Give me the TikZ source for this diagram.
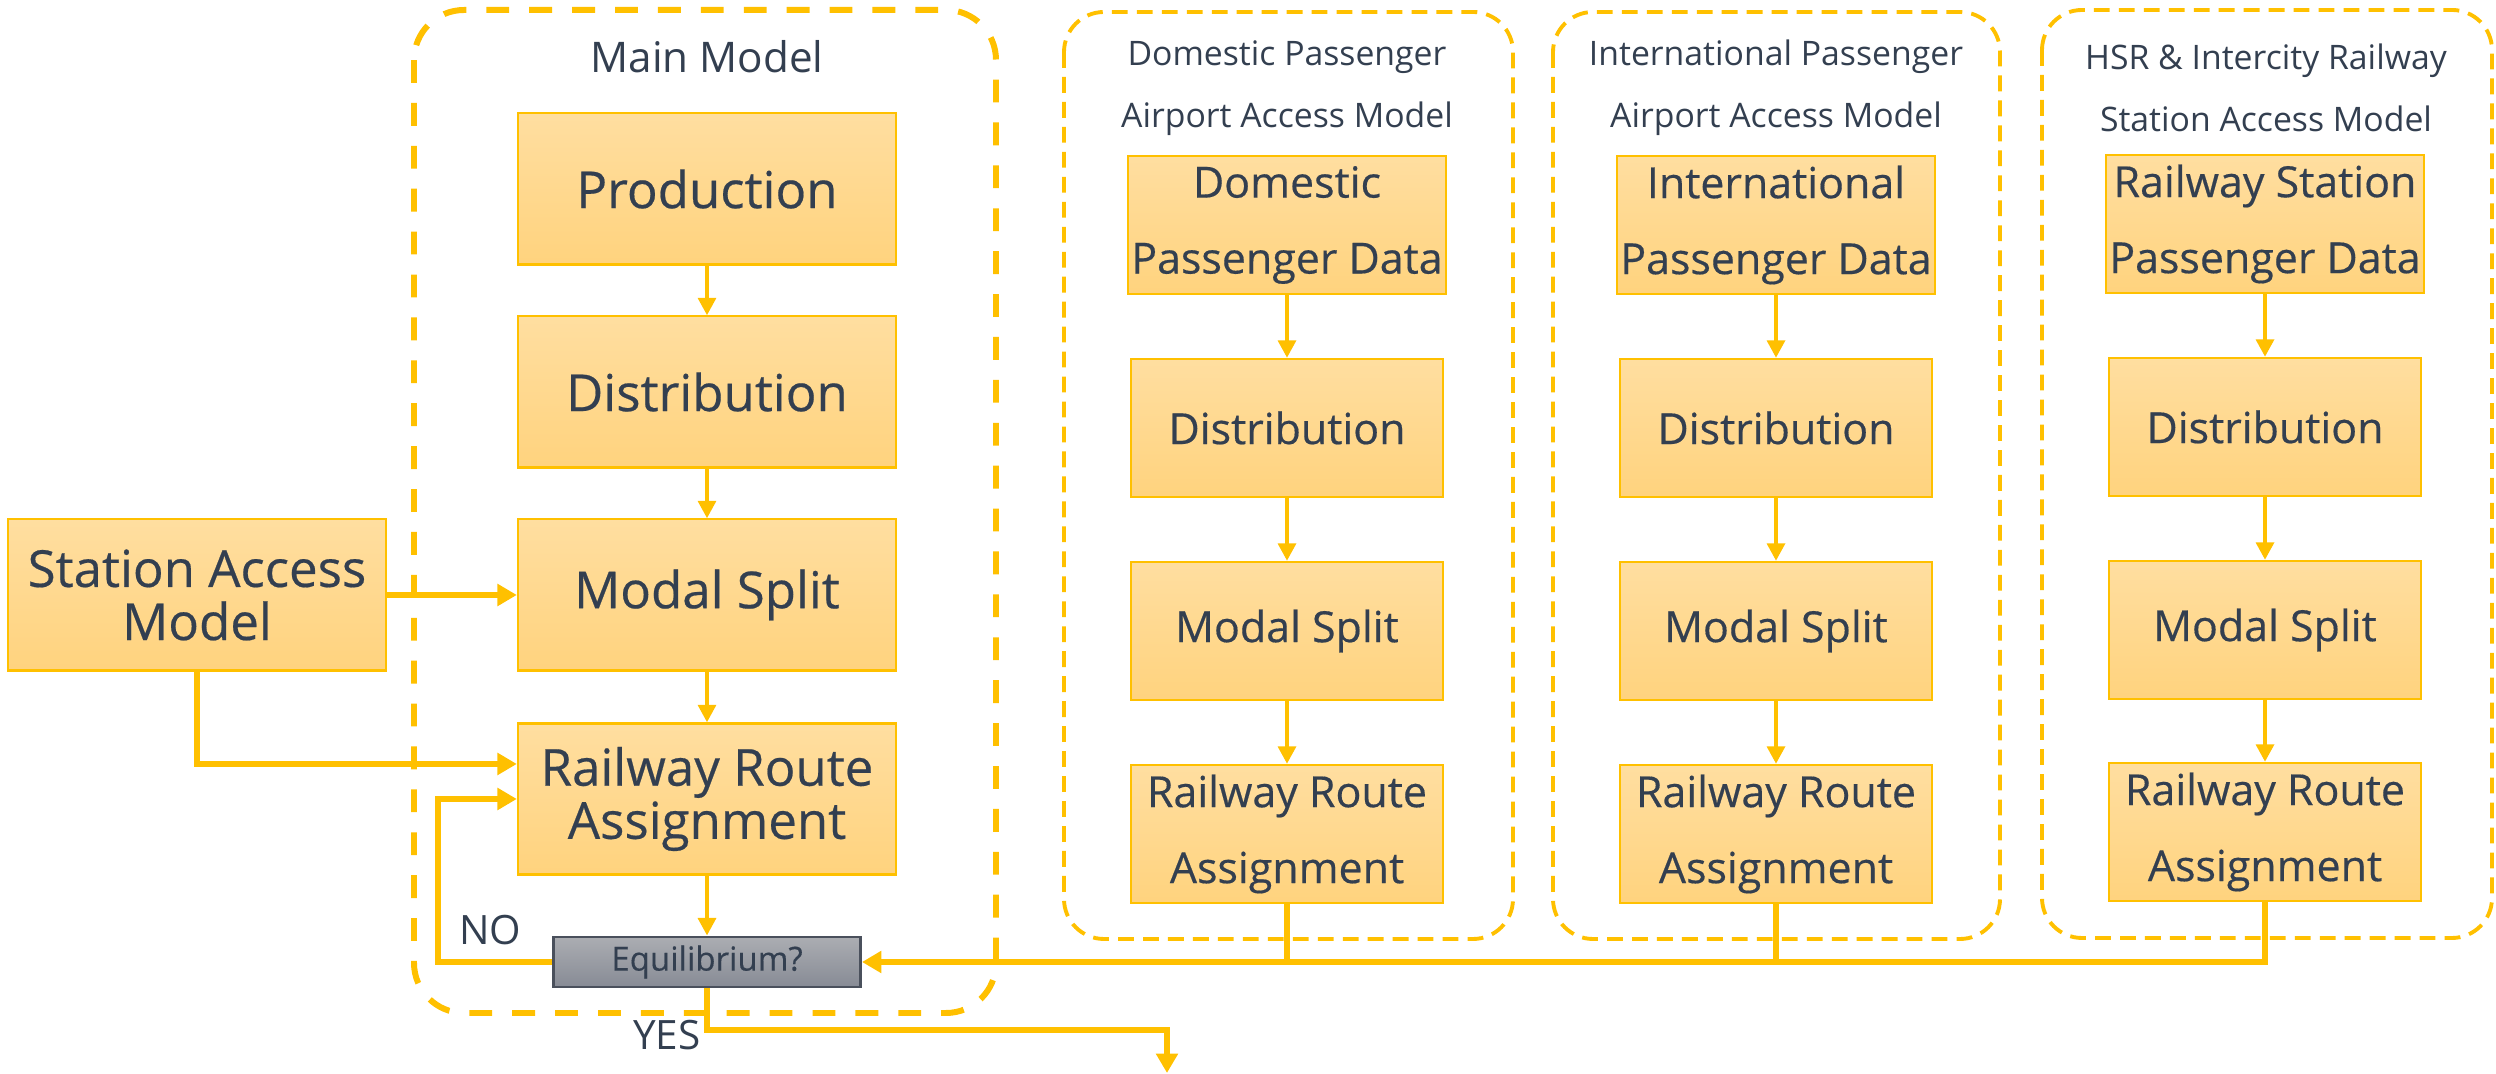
\documentclass[tikz,border=0pt]{standalone}
\usepackage{fontspec}
\setmainfont{Open Sans}
\newfontfamily\boxfont[FakeBold=0.4]{Open Sans}
\usetikzlibrary{arrows.meta,calc,positioning}
\definecolor{gold}{HTML}{FFC000}
\definecolor{boxtop}{HTML}{FFDEA0}
\definecolor{boxbot}{HTML}{FFD37E}
\definecolor{ink}{HTML}{333F50}
\definecolor{greytop}{HTML}{ABADB2}
\definecolor{greybot}{HTML}{878B95}
\definecolor{greyline}{HTML}{4A505C}
\tikzset{
	stage/.style={draw=gold,line width=0.6pt,top color=boxtop,bottom color=boxbot,text=ink,align=center,inner sep=1pt},
	mainstage/.style={stage,minimum width=3.78cm,minimum height=1.51cm,font=\boxfont\fontsize{14.5}{15.1}\selectfont},
	substage/.style={stage,minimum width=3.11cm,minimum height=1.38cm,font=\boxfont\fontsize{12.2}{21.6}\selectfont},
	checkbox/.style={draw=greyline,line width=0.8pt,top color=greytop,bottom color=greybot,text=ink,minimum width=3.07cm,minimum height=0.5cm,inner sep=1pt,font=\boxfont\fontsize{9.4}{10}\selectfont},
	maintitle/.style={text=ink,font=\fontsize{12}{14}\selectfont},
	subtitle/.style={text=ink,align=center,font=\fontsize{9.6}{17.6}\selectfont},
	answer/.style={text=ink,font=\fontsize{11.5}{13}\selectfont},
	mainframe/.style={draw=gold,line width=1.7pt,dash pattern=on 6.5pt off 5.7pt,rounded corners=0.5cm},
	subframe/.style={draw=gold,line width=1.1pt,dash pattern=on 4.5pt off 2.6pt,rounded corners=0.4cm},
	flow/.style={-{Triangle[width=5pt,length=5pt]},draw=gold,line width=1.3pt},
	feed/.style={-{Triangle[width=6pt,length=5.5pt]},draw=gold,line width=1.8pt},
	back/.style={draw=gold,line width=1.8pt}
}
\begin{document}
\begin{tikzpicture}[x=0.01cm,y=-0.01cm]
	\useasboundingbox (0,0) rectangle (2496,1074);
	
	%%%frames
	\draw[mainframe] (414,10) rectangle (996,1013);
	\draw[subframe] (1064,12) rectangle (1513,939);
	\draw[subframe] (1553,12) rectangle (2000,939);
	\draw[subframe] (2042,10) rectangle (2492,938);
	
	\node[maintitle] (tmain) at (707,57) {Main Model};
	\node[subtitle] (tdom) at (1287,88) {Domestic Passenger\\Airport Access Model};
	\node[subtitle] (tint) at (1776,88) {International Passenger\\Airport Access Model};
	\node[subtitle] (thsr) at (2266,88) {HSR \& Intercity Railway\\Station Access Model};
	
	%%%main model
	\node[mainstage] (prod) at (707,189) {Production};
	\node[mainstage] (mdist) at (707,392) {Distribution};
	\node[mainstage] (msplit) at (707,595) {Modal Split};
	\node[mainstage] (mroute) at (707,799) {Railway Route\\Assignment};
	\node[checkbox] (equi) at (707,962) {Equilibrium?};
	\node[mainstage] (sam) at (197,595) {Station Access\\Model};
	
	\draw[flow] (prod) -- (mdist);
	\draw[flow] (mdist) -- (msplit);
	\draw[flow] (msplit) -- (mroute);
	\draw[flow] (mroute) -- (equi);
	
	\draw[feed] (sam) -- (msplit);
	\draw[feed] (sam.south) |- ([yshift=0.35cm]mroute.west);
	
	%%%loop back and exit
	\coordinate (noturn) at (438,799);
	\draw[feed] (equi.west) -| (noturn) -- (mroute.west);
	\node[answer] (nolab) at (490,930) {NO};
	
	\coordinate (yesturn) at (1167,1030);
	\coordinate (yesend) at (1167,1073);
	\draw[feed] (equi.south) |- (yesturn) -- (yesend);
	\node[answer] (yeslab) at (667,1035) {YES};
	
	%%%domestic
	\node[substage] (ddata) at (1287,225) {Domestic\\Passenger Data};
	\node[substage] (ddist) at (1287,428) {Distribution};
	\node[substage] (dsplit) at (1287,631) {Modal Split};
	\node[substage] (droute) at (1287,834) {Railway Route\\Assignment};
	
	%%%international
	\node[substage] (idata) at (1776,225) {International\\Passenger Data};
	\node[substage] (idist) at (1776,428) {Distribution};
	\node[substage] (isplit) at (1776,631) {Modal Split};
	\node[substage] (iroute) at (1776,834) {Railway Route\\Assignment};
	
	%%%hsr
	\node[substage] (hdata) at (2265,224) {Railway Station\\Passenger Data};
	\node[substage] (hdist) at (2265,427) {Distribution};
	\node[substage] (hsplit) at (2265,630) {Modal Split};
	\node[substage] (hroute) at (2265,832) {Railway Route\\Assignment};
	
	\draw[flow] (ddata) -- (ddist);
	\draw[flow] (ddist) -- (dsplit);
	\draw[flow] (dsplit) -- (droute);
	\draw[flow] (idata) -- (idist);
	\draw[flow] (idist) -- (isplit);
	\draw[flow] (isplit) -- (iroute);
	\draw[flow] (hdata) -- (hdist);
	\draw[flow] (hdist) -- (hsplit);
	\draw[flow] (hsplit) -- (hroute);
	
	\draw[feed] (hroute.south) |- (equi.east);
	\draw[back] (droute.south) -- (droute.south |- equi.east);
	\draw[back] (iroute.south) -- (iroute.south |- equi.east);
\end{tikzpicture}
\end{document}
